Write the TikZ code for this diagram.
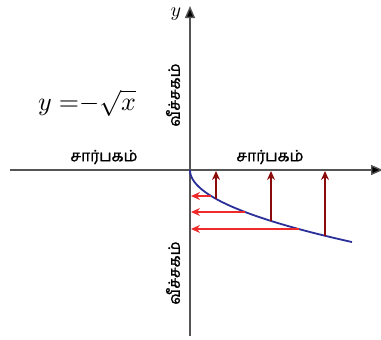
\documentclass[tikz,border=0pt]{standalone}
\usepackage{fontspec}
\newfontfamily\tamil[Script=Tamil,FakeBold=1.2]{Hind Madurai}
\usetikzlibrary{arrows.meta}
\definecolor{axisgray}{HTML}{555555}
\definecolor{curveblue}{HTML}{2B2F9A}
\definecolor{maroonc}{HTML}{8B0A0A}
\definecolor{redc}{HTML}{EE2A2A}
\tikzset{
  axis/.style={draw=axisgray, line width=1.4pt, -{Triangle[length=12pt,width=10pt,fill=black]}},
  curvestyle/.style={draw=curveblue, line width=1.8pt},
  vup/.style={draw=maroonc, line width=1.1pt, -{Stealth[length=9pt,width=8pt]}},
  hleft/.style={draw=redc, line width=1.1pt, -{Stealth[length=9pt,width=8pt]}},
  tlabel/.style={font=\tamil\fontsize{12}{14}\selectfont, inner sep=0pt, scale=1.3},
}
\begin{document}
\begin{tikzpicture}[x=1pt,y=-1pt]
\useasboundingbox (0,0) rectangle (381,340);
\coordinate (xl) at (10,170);
\coordinate (xr) at (383,170);
\coordinate (yb) at (190,336);
\coordinate (yt) at (190,6);
\draw[axis] (xl) -- (xr);
\draw[axis] (yb) -- (yt);
\node[inner sep=0pt, scale=2] (ylab) at (176,14) {$y$};
\node[inner sep=0pt, scale=2] (xlab) at (388,185) {$x$};
\draw[curvestyle] plot[domain=0:12.73, samples=80, smooth] ({190+\x*\x}, {170+5.66*\x});
% vertical arrows
\foreach \t/\n in {5.1/a,9/b,11.62/c}{
  \coordinate (v\n) at ({190+\t*\t},{170+5.66*\t});
  \coordinate (va\n) at ({190+\t*\t},171);
  \draw[vup] (v\n) -- (va\n);
}
% horizontal arrows
\foreach \t/\n in {4.6/a,7.42/b,10.42/c}{
  \coordinate (h\n) at ({190+\t*\t},{170+5.66*\t});
  \coordinate (ha\n) at (191,{170+5.66*\t});
  \draw[hleft] (h\n) -- (ha\n);
}
\node[inner sep=0pt, scale=2.6] (eq) at (87,103) {$y\;{=}{-}\sqrt{x}$};
\node[tlabel] (dom1) at (104,157) {சார்பகம்};
\node[tlabel] (dom2) at (270,157) {சார்பகம்};
\node[tlabel, rotate=90] (rng1) at (173,95) {வீச்சகம்};
\node[tlabel, rotate=90] (rng2) at (173,273) {வீச்சகம்};
\end{tikzpicture}
\end{document}
